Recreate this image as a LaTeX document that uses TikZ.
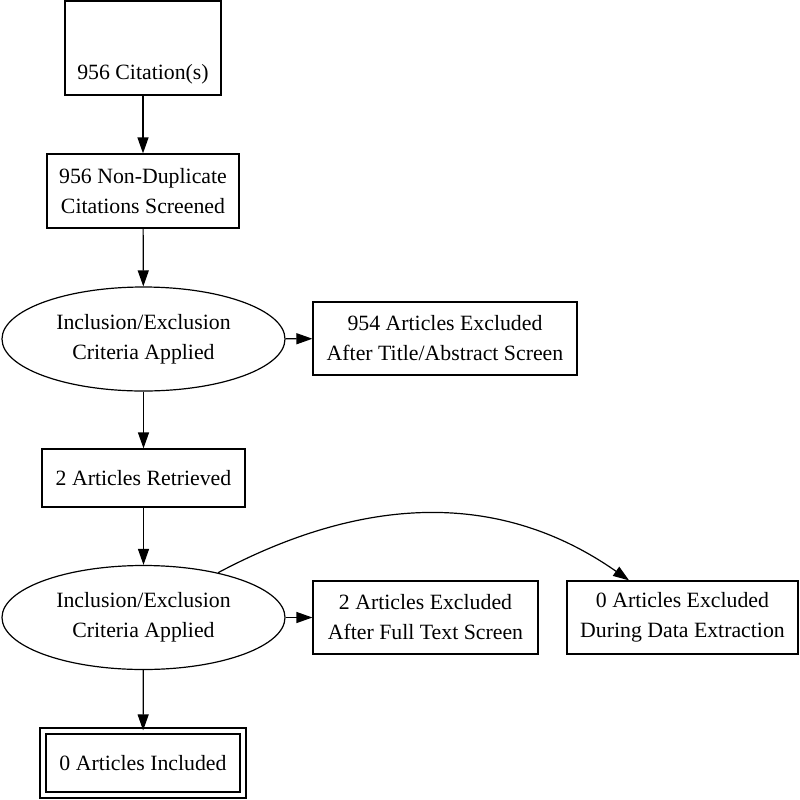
\documentclass[tikz,border=0pt]{standalone}
\usepackage{fontspec}
\setmainfont{Liberation Serif}
\usepackage{tikz}
\usetikzlibrary{arrows.meta,shapes.geometric,calc}
\tikzset{
  box/.style    ={rectangle,draw=black,line width=0.6pt,inner sep=0pt,
                  align=center,font=\fontsize{10.9}{15}\selectfont},
  boxdbl/.style ={box,double,double distance=2.4pt},
  crit/.style   ={ellipse,draw=black,line width=0.6pt,inner sep=0pt,
                  align=center,font=\fontsize{10.9}{15}\selectfont,
                  minimum width=141.5pt,minimum height=52pt},
  ed/.style     ={->,draw=black,line width=0.6pt},
}

\begin{document}
\begin{tikzpicture}[
  >={Triangle[length=8pt,width=5.5pt]},
  x=0.5pt, y=-0.5pt,
]
\useasboundingbox (0,0) rectangle (800,800);

%% ---------------- nodes ----------------
%% main column: screening stages top to bottom
\node[box,minimum width=78pt,minimum height=47pt] (cit) at (143,48)
  {\mbox{}\\[18.5pt]956 Citation(s)};
\node[box,minimum width=96pt,minimum height=37pt] (nondup) at (143,191)
  {956 Non-Duplicate\\Citations Screened};
\node[crit] (crit1) at (143.5,339) {Inclusion/Exclusion\\Criteria Applied};
\node[box,minimum width=101.5pt,minimum height=29pt] (retr) at (143.5,478)
  {2 Articles Retrieved};
\node[crit] (crit2) at (143.5,617.5) {Inclusion/Exclusion\\Criteria Applied};
\node[boxdbl,minimum width=100pt,minimum height=32pt] (incl) at (143,763)
  {0 Articles Included};

%% exclusions, to the right
\node[box,minimum width=132pt,minimum height=36.5pt] (excl1) at (445,338.5)
  {954 Articles Excluded\\After Title/Abstract Screen};
\node[box,minimum width=112.5pt,minimum height=36.5pt] (excl2) at (425.5,617.5)
  {2 Articles Excluded\\After Full Text Screen};
\node[box,minimum width=115.5pt,minimum height=36.5pt] (excl3) at (682.5,617.5)
  {0 Articles Excluded\\During Data Extraction};

%% ---------------- edges ----------------
\foreach \u/\v in {cit/nondup, nondup/crit1, crit1/retr, retr/crit2, crit2/incl}{
  \draw[ed] (\u) -- (\v);
}
\draw[ed] (crit1) -- (excl1);
\draw[ed] (crit2) -- (excl2);

%% arc over the full-text box
\draw[ed] (crit2.31) to[out=28,in=145]
  ($(excl3.north west)!0.27!(excl3.north east)$);

\end{tikzpicture}
\end{document}
